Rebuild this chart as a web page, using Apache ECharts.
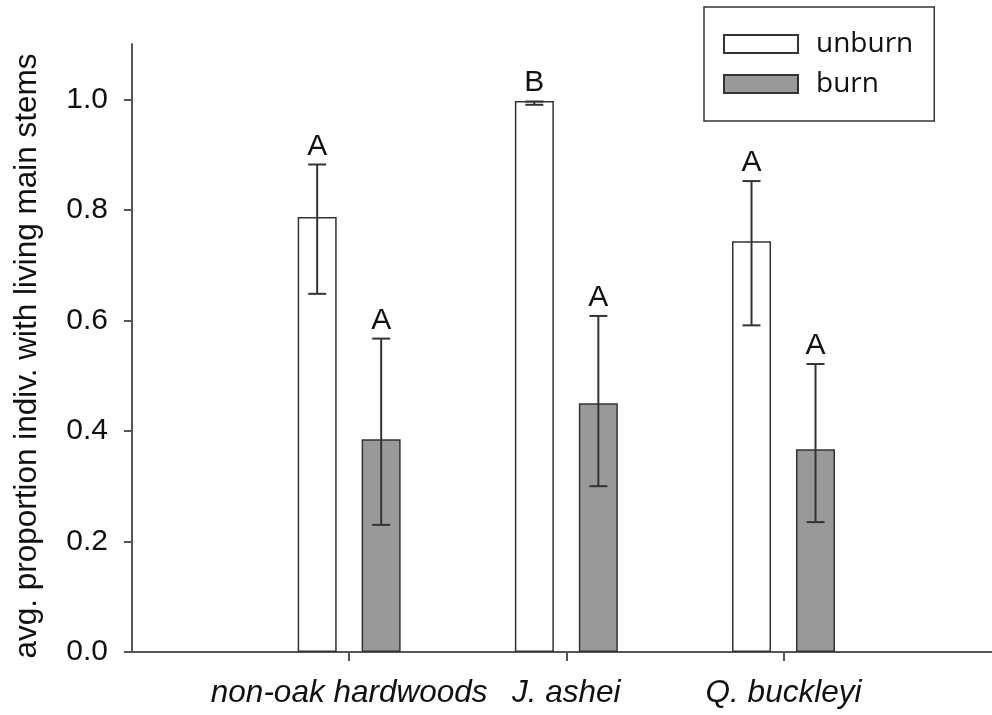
<!DOCTYPE html>
<html>
<head>
<meta charset="utf-8">
<script src="https://cdn.jsdelivr.net/npm/echarts@6/dist/echarts.min.js"></script>
<style>html,body{margin:0;padding:0;background:#fff;}#chart{width:992px;height:715px;}</style>
</head>
<body>
<div id="chart"></div>
<script>
const categories = ['non-oak hardwoods', 'J. ashei', 'Q. buckleyi'];
const unburnMean = [0.787, 0.997, 0.743];
const unburnLow = [0.648, 0.990, 0.591];
const unburnHigh = [0.882, 0.996, 0.852];
const burnMean = [0.385, 0.450, 0.367];
const burnLow = [0.230, 0.300, 0.235];
const burnHigh = [0.567, 0.608, 0.521];
const unburnLetters = ['A', 'B', 'A'];
const burnLetters = ['A', 'A', 'A'];
const yTicks = [0, 0.2, 0.4, 0.6, 0.8, 1.0];
const xTicks = [1, 2, 3];

const FONT = 'Liberation Sans, Arial, sans-serif';

function errorSeries(mean, low, high, letters, offset) {
  return {
    type: 'custom',
    z: 5,
    data: categories.map((c, i) => [i + 1, low[i], high[i], mean[i]]),
    encode: { x: 0, y: [1, 2, 3] },
    renderItem: function (params, api) {
      const x = api.value(0);
      const lo = api.value(1), hi = api.value(2), m = api.value(3);
      const pHi = api.coord([x, hi]);
      const pLo = api.coord([x, lo]);
      const pTop = api.coord([x, Math.max(hi, m)]);
      const cx = pHi[0] + offset;
      const half = 9;
      const style = { stroke: '#333', lineWidth: 2 };
      return {
        type: 'group',
        children: [
          { type: 'line', shape: { x1: cx, y1: pHi[1], x2: cx, y2: pLo[1] }, style: style },
          { type: 'line', shape: { x1: cx - half, y1: pHi[1], x2: cx + half, y2: pHi[1] }, style: style },
          { type: 'line', shape: { x1: cx - half, y1: pLo[1], x2: cx + half, y2: pLo[1] }, style: style },
          { type: 'text', style: { text: letters[params.dataIndex], x: cx, y: pTop[1] - 18, align: 'center', verticalAlign: 'middle', fontSize: 30, fontFamily: FONT, fill: '#111' } }
        ]
      };
    }
  };
}

const chart = echarts.init(document.getElementById('chart'), null, { renderer: 'canvas' });
chart.setOption({
  animation: false,
  backgroundColor: '#fff',
  grid: { left: 132, right: 0, top: 44, bottom: 63 },
  legend: {
    data: ['unburn', 'burn'],
    orient: 'vertical',
    left: 704,
    top: 7,
    icon: 'rect',
    itemWidth: 74,
    itemHeight: 18,
    itemGap: 12,
    padding: [23, 21, 23, 19],
    borderColor: '#333',
    borderWidth: 1.5,
    selectedMode: false,
    textStyle: { fontFamily: 'Open Sans', fontSize: 28, color: '#111', padding: [0, 0, 0, 13] }
  },
  xAxis: {
    type: 'value',
    min: 0,
    max: 3.96,
    interval: 1,
    axisLine: { show: true, onZero: false, lineStyle: { color: '#555', width: 2 } },
    axisTick: { show: true, customValues: xTicks, length: 9, lineStyle: { color: '#555', width: 2 } },
    axisLabel: {
      customValues: xTicks,
      formatter: v => categories[Math.round(v) - 1] || '',
      fontSize: 31.5, fontStyle: 'italic', fontFamily: FONT, color: '#111', margin: 25
    },
    splitLine: { show: false }
  },
  yAxis: {
    type: 'value',
    min: 0,
    max: 1.1,
    interval: 0.2,
    name: 'avg. proportion indiv. with living main stems',
    nameLocation: 'middle',
    nameGap: 89,
    nameTextStyle: { fontSize: 31.5, fontFamily: FONT, color: '#111', padding: [0, 16, 0, 0] },
    axisLine: { show: true, lineStyle: { color: '#555', width: 2 } },
    axisTick: { show: true, customValues: yTicks, length: 8, lineStyle: { color: '#555', width: 2 } },
    axisLabel: {
      customValues: yTicks,
      formatter: v => v.toFixed(1),
      fontSize: 30, fontFamily: FONT, color: '#111', margin: 24
    },
    splitLine: { show: false }
  },
  series: [
    {
      name: 'unburn', type: 'bar',
      data: categories.map((c, i) => [i + 1, unburnMean[i]]),
      barWidth: 39, barGap: '64%',
      itemStyle: { color: '#ffffff', borderColor: '#333', borderWidth: 1.5 }
    },
    {
      name: 'burn', type: 'bar',
      data: categories.map((c, i) => [i + 1, burnMean[i]]),
      barWidth: 39, barGap: '64%',
      itemStyle: { color: '#999999', borderColor: '#333', borderWidth: 1.5 }
    },
    errorSeries(unburnMean, unburnLow, unburnHigh, unburnLetters, -32),
    errorSeries(burnMean, burnLow, burnHigh, burnLetters, 32)
  ]
});
</script>
</body>
</html>
